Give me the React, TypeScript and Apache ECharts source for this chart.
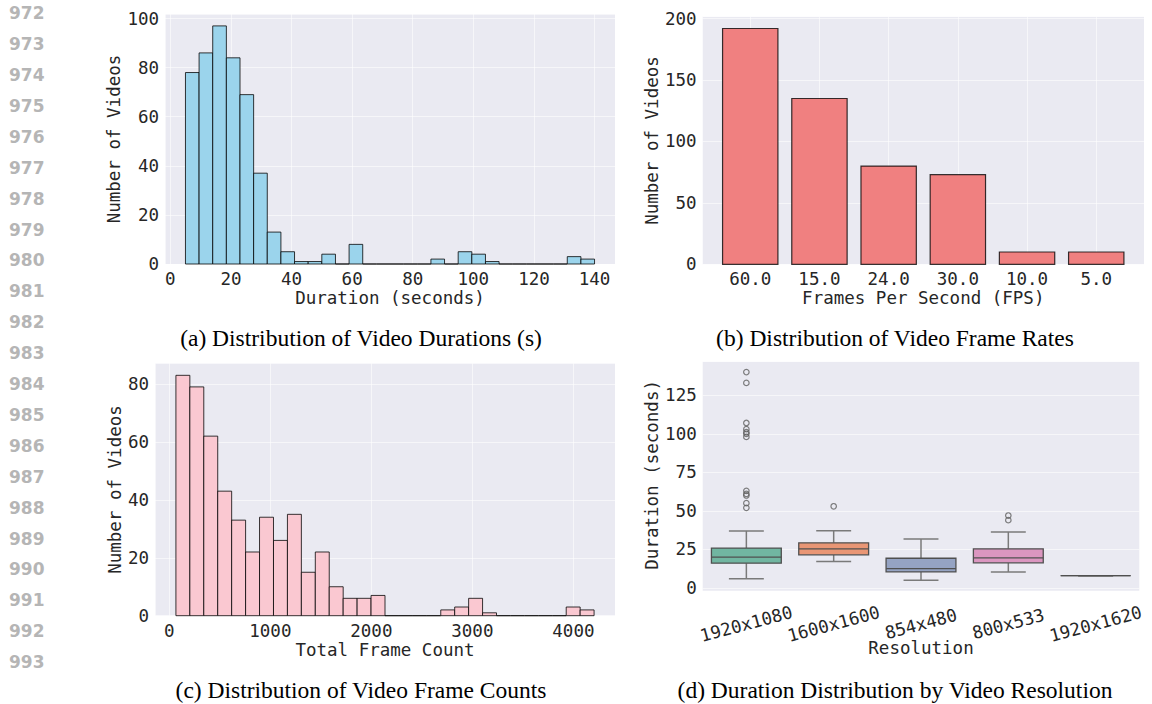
import React, { useEffect, useRef } from "react";
import * as echarts from "echarts";

// ---------- data ----------
const durationCounts = [78, 86, 97, 84, 69, 37, 13, 5, 1, 1, 4, 0, 8, 0, 0, 0, 0, 0, 2, 0, 5, 4, 1, 0, 0, 0, 0, 0, 3, 2];
const durationRange = [5, 140];

const fpsLabels = ["60.0", "15.0", "24.0", "30.0", "10.0", "5.0"];
const fpsCounts = [192, 135, 80, 73, 10, 10];

const frameCounts = [83, 79, 62, 43, 33, 22, 34, 26, 35, 15, 22, 10, 6, 6, 7, 0, 0, 0, 0, 2, 3, 6, 1, 0, 0, 0, 0, 0, 3, 2];
const frameRange = [65, 4205];

const resolutions = ["1920x1080", "1600x1600", "854x480", "800x533", "1920x1620"];
const boxLow = [6, 17.2, 5, 10.4, 8];
const boxQ1 = [16.1, 21.5, 10.4, 16.3, 8];
const boxMedian = [20, 25.4, 12.6, 19.6, 8];
const boxQ3 = [25.9, 29.3, 19.3, 25.4, 8];
const boxHigh = [37, 37.2, 31.7, 36.3, 8];
const boxColors = ["#71B6A1", "#E99675", "#95A3C3", "#DB96C0", "#A8CF6A"];
const outlierGroup = [0, 0, 0, 0, 0, 0, 0, 0, 0, 0, 0, 0, 1, 3, 3];
const outlierValue = [140, 133, 107, 103, 101, 100, 98, 63, 61, 60, 55, 52, 53, 47, 44];

const captions = [
  "(a) Distribution of Video Durations (s)",
  "(b) Distribution of Video Frame Rates",
  "(c) Distribution of Video Frame Counts",
  "(d) Duration Distribution by Video Resolution",
];
const lineNumbers = Array.from({ length: 22 }, (_, i) => String(972 + i));

// ---------- style helpers ----------
const MONO = '"DejaVu Sans Mono", monospace';
const TXT = "#262626";
const FS = 17.5;
const BG = "#EAEAF2";
const GRIDLINE = { show: true, lineStyle: { color: "rgba(255,255,255,0.55)", width: 1 } };

const stepFormatter = (step: number, labels?: string[]) => (v: number) => {
  const k = v / step;
  if (Math.abs(k - Math.round(k)) > 1e-6) return "";
  if (labels) return labels[Math.round(k)] ?? "";
  return String(Math.round(v));
};

function valueAxis(gridIndex: number, min: number, max: number, opts: any) {
  return {
    type: "value",
    gridIndex,
    min,
    max,
    axisLine: { show: false },
    axisTick: { show: false },
    splitLine: GRIDLINE,
    nameLocation: "middle",
    nameTextStyle: { fontFamily: MONO, fontSize: FS, color: TXT },
    axisLabel: { fontFamily: MONO, fontSize: FS, color: TXT, margin: 6 },
    ...opts,
  };
}

function histSeries(idx: number, counts: number[], range: number[], fill: string) {
  const w = (range[1] - range[0]) / counts.length;
  return {
    type: "custom",
    xAxisIndex: idx,
    yAxisIndex: idx,
    clip: false,
    encode: { x: [0, 1], y: 2 },
    data: counts.map((c, i) => [range[0] + i * w, range[0] + (i + 1) * w, c]),
    renderItem: (params: any, api: any) => {
      const c = api.value(2);
      const p0 = api.coord([api.value(0), c]);
      const p1 = api.coord([api.value(1), 0]);
      return {
        type: "rect",
        shape: { x: p0[0], y: p0[1], width: p1[0] - p0[0], height: p1[1] - p0[1] },
        style: { fill, stroke: "rgba(0,0,0,0.78)", lineWidth: 1 },
      };
    },
  };
}

export default function App() {
  const ref = useRef<HTMLDivElement>(null);
  useEffect(() => {
    if (!ref.current) return;
    const chart = echarts.init(ref.current, undefined, { renderer: "svg" });

    const grids = [
      { left: 165, top: 14, width: 450, height: 250 },
      { left: 702.5, top: 16.7, width: 441.5, height: 247.6 },
      { left: 155, top: 363.3, width: 460, height: 252.4 },
      { left: 702.7, top: 361.7, width: 436.6, height: 226.3 },
    ].map((g) => ({ ...g, show: true, backgroundColor: BG, borderWidth: 0 }));

    const lbl = (formatter: any) => ({ fontFamily: MONO, fontSize: FS, color: TXT, margin: 6, formatter });

    const xAxes = [
      valueAxis(0, -1.75, 146.75, {
        splitNumber: 7,
        name: "Duration (seconds)",
        nameGap: 24,
        axisLabel: lbl(stepFormatter(20)),
      }),
      valueAxis(1, -0.69, 5.69, {
        splitNumber: 6,
        name: "Frames Per Second (FPS)",
        nameGap: 24,
        axisLabel: lbl(stepFormatter(1, fpsLabels)),
      }),
      valueAxis(2, -142, 4412, {
        splitNumber: 5,
        name: "Total Frame Count",
        nameGap: 24,
        axisLabel: lbl(stepFormatter(1000)),
      }),
      {
        type: "category",
        gridIndex: 3,
        data: resolutions,
        boundaryGap: true,
        axisLine: { show: false },
        axisTick: { show: false },
        splitLine: { show: false },
        name: "Resolution",
        nameLocation: "middle",
        nameGap: 51,
        nameMoveOverlap: false,
        nameTextStyle: { fontFamily: MONO, fontSize: FS, color: TXT },
        axisLabel: {
          interval: 0,
          rotate: 15,
          align: "center",
          verticalAlign: "middle",
          margin: 36,
          fontFamily: MONO,
          fontSize: FS,
          color: TXT,
        },
      },
    ];

    const yAxes = [
      valueAxis(0, 0, 101.85, {
        splitNumber: 5,
        name: "Number of Videos",
        nameGap: 40,
        axisLabel: lbl(stepFormatter(20)),
      }),
      valueAxis(1, 0, 201.6, {
        splitNumber: 4,
        name: "Number of Videos",
        nameGap: 40,
        axisLabel: lbl(stepFormatter(50)),
      }),
      valueAxis(2, 0, 87.15, {
        splitNumber: 4,
        name: "Number of Videos",
        nameGap: 30,
        axisLabel: lbl(stepFormatter(20)),
      }),
      valueAxis(3, 0, 146.75, {
        interval: 25,
        name: "Duration (seconds)",
        nameGap: 40,
        axisLabel: lbl(stepFormatter(25)),
      }),
    ];

    const fpsSeries = {
      type: "custom",
      xAxisIndex: 1,
      yAxisIndex: 1,
      encode: { x: 0, y: 1 },
      data: fpsCounts.map((c, i) => [i, c]),
      renderItem: (params: any, api: any) => {
        const i = api.value(0);
        const c = api.value(1);
        const p0 = api.coord([i - 0.4, c]);
        const p1 = api.coord([i + 0.4, 0]);
        return {
          type: "rect",
          shape: { x: p0[0], y: p0[1], width: p1[0] - p0[0], height: p1[1] - p0[1] },
          style: { fill: "#F08080", stroke: "rgba(0,0,0,0.78)", lineWidth: 1.2 },
        };
      },
    };

    const boxSeries = {
      type: "custom",
      xAxisIndex: 3,
      yAxisIndex: 3,
      encode: { x: 0, y: [1, 2, 3, 4, 5] },
      data: resolutions.map((_, i) => [i, boxLow[i], boxQ1[i], boxMedian[i], boxQ3[i], boxHigh[i]]),
      renderItem: (params: any, api: any) => {
        const i = api.value(0);
        const band = api.size([1, 0])[0];
        const bw = band * 0.8;
        const cx = api.coord([i, 0])[0];
        const y = (k: number) => api.coord([i, api.value(k)])[1];
        const yLow = y(1), yQ1 = y(2), yMed = y(3), yQ3 = y(4), yHigh = y(5);
        const wStyle = { stroke: "#7a7a7a", lineWidth: 1.5 };
        const bStyle = { stroke: "#505050", lineWidth: 1.3 };
        return {
          type: "group",
          children: [
            { type: "line", shape: { x1: cx, y1: yQ1, x2: cx, y2: yLow }, style: wStyle },
            { type: "line", shape: { x1: cx, y1: yQ3, x2: cx, y2: yHigh }, style: wStyle },
            { type: "line", shape: { x1: cx - bw / 4, y1: yLow, x2: cx + bw / 4, y2: yLow }, style: wStyle },
            { type: "line", shape: { x1: cx - bw / 4, y1: yHigh, x2: cx + bw / 4, y2: yHigh }, style: wStyle },
            {
              type: "rect",
              shape: { x: cx - bw / 2, y: yQ3, width: bw, height: yQ1 - yQ3 },
              style: { fill: boxColors[i], ...bStyle },
            },
            { type: "line", shape: { x1: cx - bw / 2, y1: yMed, x2: cx + bw / 2, y2: yMed }, style: bStyle },
          ],
        };
      },
    };

    const outlierSeries = {
      type: "scatter",
      xAxisIndex: 3,
      yAxisIndex: 3,
      symbol: "circle",
      symbolSize: 5.5,
      itemStyle: { color: "rgba(0,0,0,0)", borderColor: "#5f5f5f", borderWidth: 1.2 },
      data: outlierValue.map((v, i) => [outlierGroup[i], v]),
    };

    const capPos = [
      [361, 338],
      [895, 338],
      [361, 690],
      [895, 690],
    ];

    const graphic: any[] = [
      {
        type: "rect",
        shape: { x: 702.7, y: 588, width: 436.6, height: 2.7 },
        style: { fill: BG },
        z: -1,
      },
      ...captions.map((t, i) => ({
        type: "text",
        x: capPos[i][0],
        y: capPos[i][1],
        style: {
          text: t,
          fontFamily: '"Liberation Serif", "Times New Roman", serif',
          fontSize: 23.5,
          fill: "#000",
          align: "center",
          verticalAlign: "middle",
        },
      })),
      ...lineNumbers.map((t, i) => ({
        type: "text",
        x: 9,
        y: 13.2 + i * 30.9,
        style: {
          text: t,
          fontFamily: '"DejaVu Sans", sans-serif',
          fontWeight: "bold",
          fontSize: 17,
          fill: "#b5b5b5",
          align: "left",
          verticalAlign: "middle",
        },
      })),
    ];

    chart.setOption({
      animation: false,
      grid: grids,
      xAxis: xAxes,
      yAxis: yAxes,
      series: [
        histSeries(0, durationCounts, durationRange, "#9BD4EC"),
        fpsSeries,
        histSeries(2, frameCounts, frameRange, "#FAC8D1"),
        boxSeries,
        outlierSeries,
      ],
      graphic,
    });

    return () => chart.dispose();
  }, []);

  return (
    <div
      ref={ref}
      style={{ position: "absolute", left: 0, top: 0, width: 1152, height: 704, background: "#fff" }}
    />
  );
}
